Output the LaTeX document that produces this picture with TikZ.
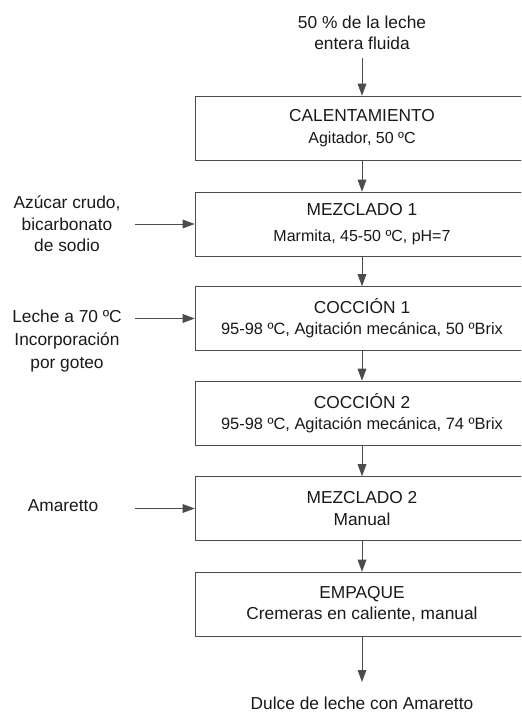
\documentclass[tikz,border=0pt]{standalone}
\usepackage{fontspec}
\setmainfont{Liberation Sans}
\usetikzlibrary{arrows.meta}

\begin{document}
\begin{tikzpicture}[x=0.75pt, y=-0.75pt,
  every node/.style={font=\fontsize{13}{16}\selectfont, align=center, text=black!90},
  stage/.style={draw=black!70, minimum width=250.5pt, minimum height=48pt, inner sep=0pt},
  flow/.style={draw=black!70, line width=0.6pt, -{Triangle[length=9pt, width=6.5pt]}}]
\useasboundingbox (0,0) rectangle (521,712);
\clip (0,0) rectangle (521,712);

% process stages
\node[stage] (b1) at (362,128)   {CALENTAMIENTO\\{\fontsize{12}{16}\selectfont Agitador, 50 ºC}};
\node[stage] (b2) at (362,224)   {MEZCLADO 1\\[3pt]{\fontsize{12}{14}\selectfont Marmita, 45-50 ºC, pH=7}};
\node[stage] (b3) at (362,318.5) {COCCIÓN 1\\{\fontsize{12.3}{16}\selectfont 95-98 ºC, Agitación mecánica, 50 ºBrix}};
\node[stage] (b4) at (362,413)   {COCCIÓN 2\\{\fontsize{12.3}{16}\selectfont 95-98 ºC, Agitación mecánica, 74 ºBrix}};
\node[stage] (b5) at (362,508.5) {MEZCLADO 2\\Manual};
\node[stage] (b6) at (362,604)   {EMPAQUE\\Cremeras en caliente, manual};

% input and product
\node[inner sep=0pt] (in) at (362,32.5) {50 \% de la leche\\entera fluida};
\node[inner sep=0pt] (out) at (362,703) {Dulce de leche con Amaretto};
\coordinate (in1) at (362,58);
\coordinate (out1) at (362,682);

% side inputs
\node (l2) at (67,224) {Azúcar crudo,\\bicarbonato\\de sodio};
\node (l3) at (67,341) {Leche a 70 ºC\\[1pt]Incorporación\\[1pt]por goteo};
\node (l5) at (63,506) {Amaretto};
\coordinate (c2) at (135,224);
\coordinate (c3) at (135,318.5);
\coordinate (c5) at (135,508.5);

\draw[flow] (in1) -- (b1);
\draw[flow] (b1) -- (b2);
\draw[flow] (b2) -- (b3);
\draw[flow] (b3) -- (b4);
\draw[flow] (b4) -- (b5);
\draw[flow] (b5) -- (b6);
\draw[flow] (b6) -- (out1);

\draw[flow] (c2) -- (b2);
\draw[flow] (c3) -- (b3);
\draw[flow] (c5) -- (b5);

\end{tikzpicture}
\end{document}
